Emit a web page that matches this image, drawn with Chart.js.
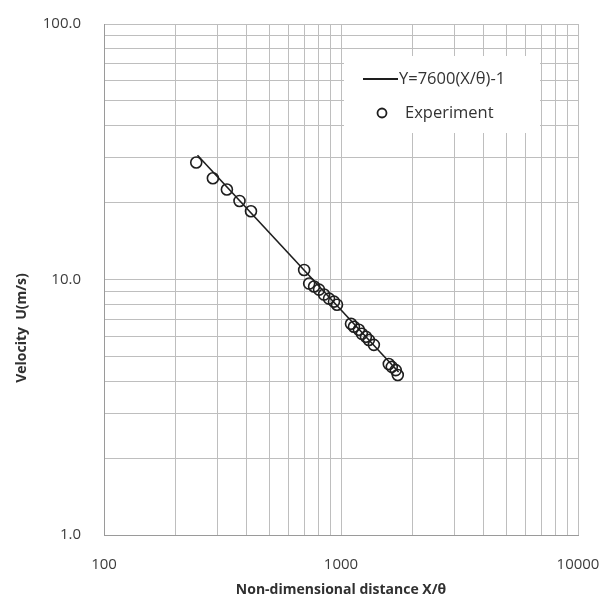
<!DOCTYPE html>
<html>
<head>
<meta charset="utf-8">
<title>Velocity decay</title>
<script src="https://cdn.jsdelivr.net/npm/chart.js@4.4.1/dist/chart.umd.min.js"></script>
<style>
  html, body { margin: 0; padding: 0; background: #ffffff; }
  #wrap { width: 604px; height: 601px; }
</style>
</head>
<body>
<div id="wrap"><canvas id="chart" width="604" height="601"></canvas></div>
<script>
// Measured velocity against non-dimensional distance X/θ
const experimentX = [245, 288, 330, 373, 417, 699, 734, 770, 808, 848, 890, 934, 962,
                     1102, 1134, 1190, 1225, 1274, 1311, 1376, 1591, 1638, 1702, 1736];
const experimentU = [28.7, 24.9, 22.5, 20.3, 18.5, 10.9, 9.64, 9.39, 9.13, 8.73, 8.42, 8.19, 7.97,
                     6.71, 6.53, 6.36, 6.13, 5.97, 5.80, 5.55, 4.67, 4.55, 4.42, 4.23];

// Power-law fit Y = 7600 (X/θ)^-1, drawn between these two distances
const fitCoefficient = 7600;
const fitX = [248, 1750];

// Axis ranges and labelled decades
const xDecades = [100, 1000, 10000];
const yDecades = [1, 10, 100];

const fitLabel = 'Y=7600(X/θ)-1';
const experimentLabel = 'Experiment';
const xTitle = 'Non-dimensional distance X/θ';
const yTitle = 'Velocity  U(m/s)';

const experimentPoints = experimentX.map((x, i) => ({ x: x, y: experimentU[i] }));
const fitPoints = fitX.map(x => ({ x: x, y: fitCoefficient / x }));

// 1..9 × 10^n grid lines across the given decades
function logGrid(decades) {
  const vals = [];
  for (let d = 0; d < decades.length - 1; d++) {
    for (let k = 1; k <= 9; k++) vals.push(decades[d] * k);
  }
  vals.push(decades[decades.length - 1]);
  return vals;
}

const inkColor = '#1e1e1e';
const gridColor = '#bebebe';
const tickFont = { family: '"Open Sans", sans-serif', size: 15 };
const titleFont = { family: '"Open Sans", sans-serif', size: 14, weight: 'bold' };

// Legend box sitting inside the plot, plus the rotated y-axis title
const overlayPlugin = {
  id: 'overlay',
  afterDraw(chart) {
    const ctx = chart.ctx;
    const ds = chart.data.datasets;
    ctx.save();
    ctx.fillStyle = '#ffffff';
    ctx.fillRect(344, 56, 196, 77);

    ctx.font = '16.5px "Open Sans", sans-serif';
    ctx.fillStyle = '#333333';
    ctx.textBaseline = 'middle';
    ctx.textAlign = 'left';

    // fit line entry
    ctx.strokeStyle = inkColor;
    ctx.lineWidth = 2;
    ctx.beginPath();
    ctx.moveTo(363, 79);
    ctx.lineTo(398, 79);
    ctx.stroke();
    ctx.fillText(ds[0].label, 399, 79);

    // experiment entry
    ctx.lineWidth = 1.8;
    ctx.beginPath();
    ctx.arc(382, 113, 4.5, 0, Math.PI * 2);
    ctx.stroke();
    ctx.fillText(ds[1].label, 405, 113);

    // y-axis title
    ctx.translate(22, 328);
    ctx.rotate(-Math.PI / 2);
    ctx.textAlign = 'center';
    ctx.font = 'bold 14px "Open Sans", sans-serif';
    ctx.fillStyle = '#303030';
    ctx.fillText(yTitle, 0, 0);
    ctx.restore();
  }
};

new Chart(document.getElementById('chart'), {
  type: 'scatter',
  data: {
    datasets: [
      {
        label: fitLabel,
        data: fitPoints,
        showLine: true,
        borderColor: inkColor,
        borderWidth: 1.6,
        pointRadius: 0,
        pointHoverRadius: 0,
        fill: false
      },
      {
        label: experimentLabel,
        data: experimentPoints,
        showLine: false,
        pointStyle: 'circle',
        pointRadius: 5.5,
        pointBorderWidth: 1.6,
        borderColor: inkColor,
        backgroundColor: 'rgba(0,0,0,0)'
      }
    ]
  },
  options: {
    responsive: false,
    animation: false,
    layout: { padding: { left: 0, right: 26, top: 24, bottom: 0 } },
    plugins: {
      legend: { display: false },
      tooltip: { enabled: false }
    },
    scales: {
      x: {
        type: 'logarithmic',
        min: xDecades[0],
        max: xDecades[xDecades.length - 1],
        afterBuildTicks(scale) {
          scale.ticks = logGrid(xDecades).map(v => ({ value: v }));
        },
        afterFit(scale) {
          scale.height = 66;
          scale.paddingLeft = 0;
          scale.paddingRight = 0;
        },
        grid: { color: gridColor, lineWidth: 1, drawTicks: false },
        border: { color: '#9a9a9a', width: 1 },
        ticks: {
          autoSkip: false,
          maxRotation: 0,
          padding: 21,
          color: '#3c3c3c',
          font: tickFont,
          callback(value) {
            return xDecades.includes(value) ? String(value) : '';
          }
        },
        title: {
          display: true,
          text: xTitle,
          color: '#303030',
          font: titleFont,
          padding: { top: 0, bottom: 3 }
        }
      },
      y: {
        type: 'logarithmic',
        min: yDecades[0],
        max: yDecades[yDecades.length - 1],
        afterBuildTicks(scale) {
          scale.ticks = logGrid(yDecades).map(v => ({ value: v }));
        },
        afterFit(scale) {
          scale.width = 104;
          scale.paddingTop = 0;
          scale.paddingBottom = 0;
        },
        grid: { color: gridColor, lineWidth: 1, drawTicks: false },
        border: { color: '#9a9a9a', width: 1 },
        ticks: {
          autoSkip: false,
          padding: 23,
          color: '#3c3c3c',
          font: tickFont,
          callback(value) {
            return yDecades.includes(value) ? value.toFixed(1) : '';
          }
        }
      }
    }
  },
  plugins: [overlayPlugin]
});
</script>
</body>
</html>
